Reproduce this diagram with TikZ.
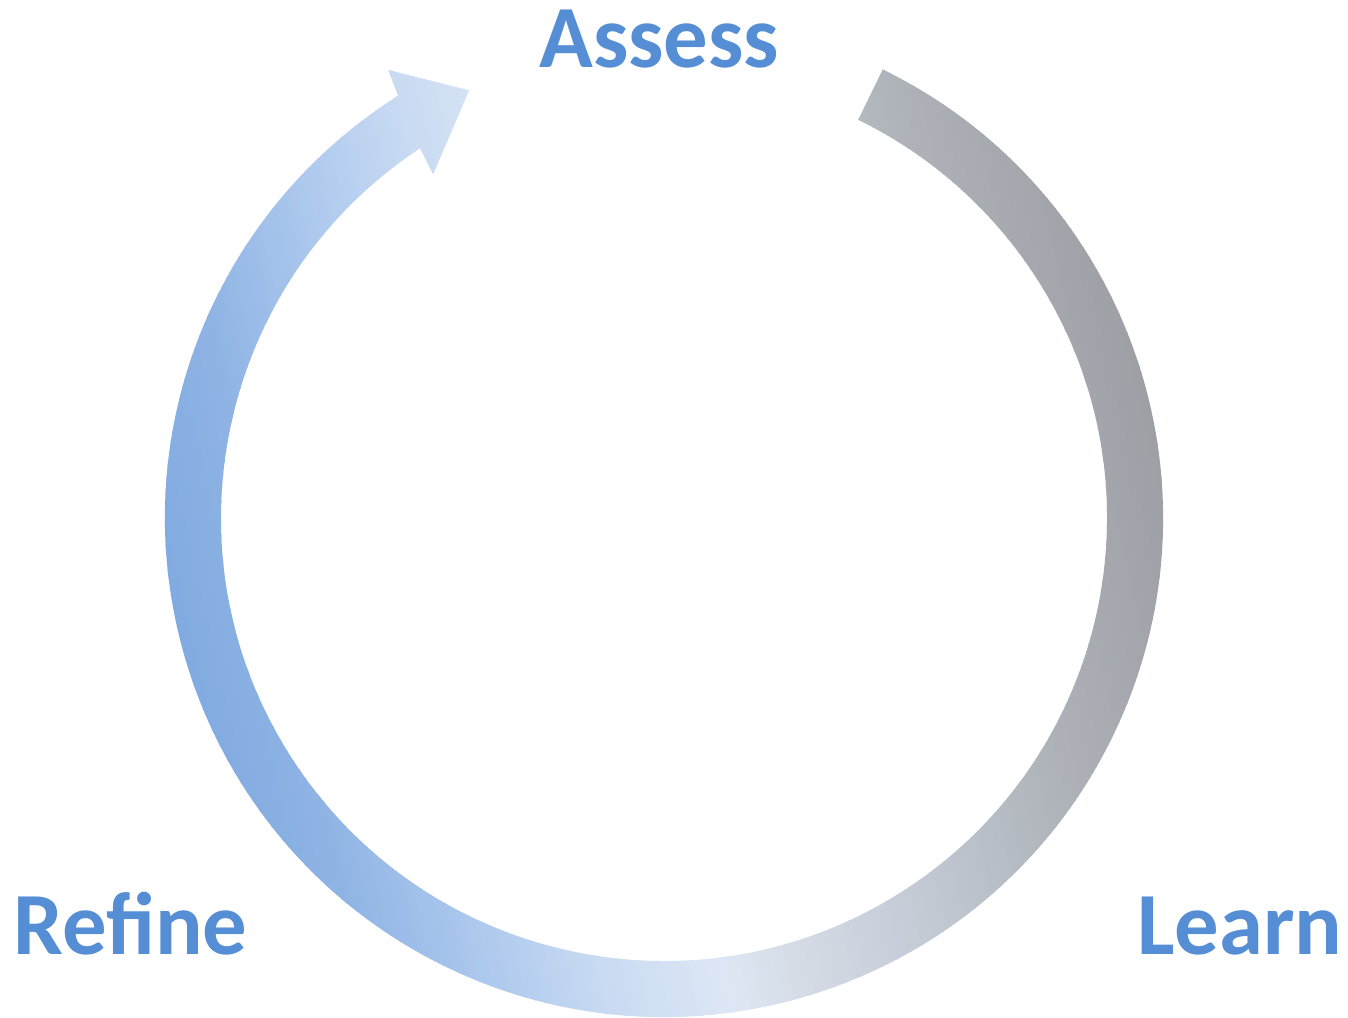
\documentclass[tikz,border=0pt]{standalone}
\usepackage{fontspec}
\setmainfont{Carlito}
\definecolor{lblblue}{HTML}{558ED5}
\definecolor{ga}{HTML}{7CA7DF}
\definecolor{gb}{HTML}{8FB4E4}
\definecolor{gc}{HTML}{AFCAEE}
\definecolor{gd}{HTML}{C8DAF2}
\definecolor{ge}{HTML}{DEE7F5}
\definecolor{gf}{HTML}{D5DCE6}
\definecolor{gg}{HTML}{C8CFDA}
\definecolor{gh}{HTML}{AFB4BA}
\definecolor{gi}{HTML}{989BA0}
\tikzset{
  lbl/.style={text=lblblue, font=\fontsize{50.5}{50.5}\selectfont\bfseries, inner sep=0pt, anchor=base west},
}
\begin{document}
\begin{tikzpicture}[x=0.02cm,y=0.02cm]
\useasboundingbox (0,0) rectangle (1348,1017);
\coordinate (C) at (664,499);
\begin{scope}[shift={(C)}]
  \begin{scope}
    \clip (64:499) arc[start angle=64, end angle=-237.8, radius=499]
      -- (121.6:526) -- (114.5:470) -- (123.9:414) -- (123.4:443)
      arc[start angle=-236.6, end angle=64, radius=443] -- cycle;
    \begin{scope}[rotate=13]
      \foreach \da/\db/\ca/\cb in {-540/-400/ga/gb, -400/-270/gb/gc, -270/-170/gc/gd, -170/-45/gd/ge, -45/25/ge/gf, 25/127/gf/gg, 127/313/gg/gh, 313/540/gh/gi}{
        \pgfmathtruncatemacro\nn{(\db-\da)/4}
        \foreach \k in {0,...,\nn}{
          \pgfmathsetmacro\tt{\da+4*\k}
          \pgfmathtruncatemacro\pc{min(100,(4*\k/(\db-\da))*100)}
          \fill[fill=\cb!\pc!\ca] (\tt,-580) rectangle ++(4.8,1160);
        }
      }
    \end{scope}
  \end{scope}
\end{scope}
\node[lbl] (assess) at (539,949) {Assess};
\node[lbl] (refine) at (13,62) {Refine};
\node[lbl] (learn) at (1137,62) {Learn};
\end{tikzpicture}
\end{document}
